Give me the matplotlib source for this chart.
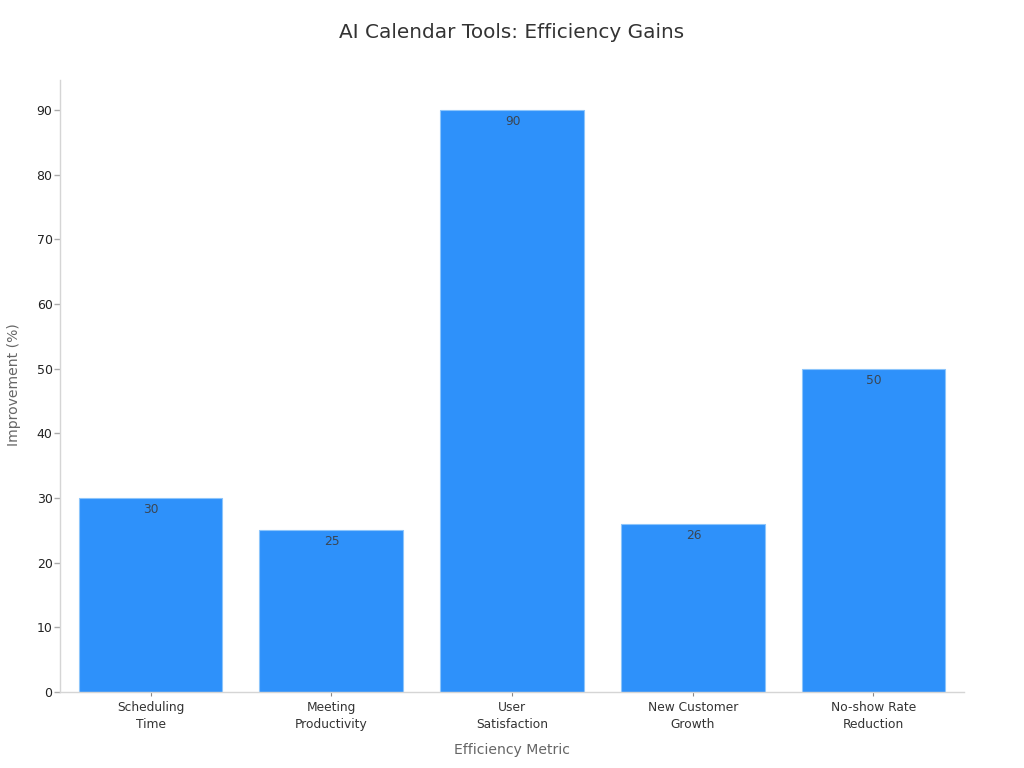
import matplotlib
matplotlib.use("Agg")
import matplotlib.pyplot as plt

metrics = ["Scheduling\nTime", "Meeting\nProductivity", "User\nSatisfaction",
           "New Customer\nGrowth", "No-show Rate\nReduction"]
improvement = [30, 25, 90, 26, 50]
yticks = [0, 10, 20, 30, 40, 50, 60, 70, 80, 90]

W, H = 1024, 768
plt.rcParams["font.family"] = "DejaVu Sans"

fig = plt.figure(figsize=(W / 100, H / 100), dpi=100)
ax = fig.add_axes([60.2 / W, 1 - 692 / H, 903.6 / W, 612 / H])

bars = ax.bar(range(len(metrics)), improvement, width=0.795, color="#2e91fa",
              edgecolor="#8cc5fb", linewidth=0.8, zorder=2)
for b, v in zip(bars, improvement):
    ax.annotate(str(v), (b.get_x() + b.get_width() / 2, v), xytext=(0.5, -3.5),
                textcoords="offset points", ha="center", va="top",
                fontsize=8.8, color="#3a4654", zorder=3)

ax.set_xlim(-0.5, 4.5)
ax.set_ylim(0, 612 / 6.465)
ax.set_xticks(range(len(metrics)))
ax.set_xticklabels(metrics, fontsize=8.8, color="#333333", linespacing=1.35)
ax.set_yticks(yticks)
ax.tick_params(axis="y", labelsize=9, labelcolor="#222222", color="#aaaaaa", length=4, width=1, pad=1.5)
ax.tick_params(axis="x", color="#888888", length=3, width=0.8, pad=3.5)

for s in ("top", "right"):
    ax.spines[s].set_visible(False)
for s in ("left", "bottom"):
    ax.spines[s].set_color("#d5d5d5")
    ax.spines[s].set_linewidth(1.0)

fig.text(512 / W, 1 - 750 / H, "Efficiency Metric", ha="center", va="center",
         fontsize=10.1, color="#666666")
fig.text(14 / W, 1 - 385 / H, "Improvement (%)", ha="center", va="center",
         rotation=90, fontsize=10.1, color="#666666")
fig.text(512 / W, 1 - 33 / H, "AI Calendar Tools: Efficiency Gains", ha="center",
         va="center", fontsize=14.4, color="#333333")

fig.savefig("out.png", dpi=100)
